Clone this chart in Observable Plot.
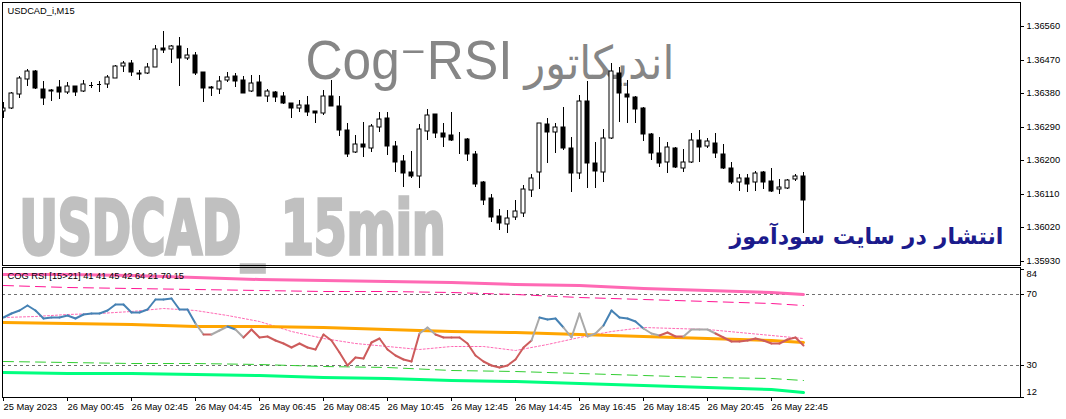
<!DOCTYPE html>
<html><head><meta charset="utf-8">
<script src="https://cdn.jsdelivr.net/npm/d3@7"></script>
<script src="https://cdn.jsdelivr.net/npm/@observablehq/plot@0.6"></script>
<style>
html,body{margin:0;padding:0;background:#fff;}
#chart{position:relative;width:1066px;height:419px;overflow:hidden;background:#fff;}
#chart svg{display:block;}
</style></head><body><div id="chart"></div>
<script>
// ---------- data ----------
const symbolLabel = "USDCAD_i,M15";
const indicatorLabel = "COG RSI [15>21] 41 41 45 42 64 21 70 15";
const watermarkLatin = "Cog\u207BRSI";
const watermarkPersian = "اندیکاتور";
const watermarkBig = "USDCAD_ 15min";
const publisherText = "انتشار در سایت سودآموز";

const timeTickBars = [0, 8, 16, 24, 32, 40, 48, 56, 64, 72, 80, 88, 96];
const timeLabels = ["25 May 2023", "26 May 00:45", "26 May 02:45", "26 May 04:45", "26 May 06:45",
  "26 May 08:45", "26 May 10:45", "26 May 12:45", "26 May 14:45", "26 May 16:45",
  "26 May 18:45", "26 May 20:45", "26 May 22:45"];
const priceTicks = [1.35930, 1.36020, 1.36110, 1.36200, 1.36290, 1.36380, 1.36470, 1.36560];

const open = [1.36332,1.36339,1.36378,1.36417,1.36440,1.36391,1.36388,1.36397,1.36384,1.36399,
1.36386,1.36402,1.36404,1.36404,1.36422,1.36453,1.36460,1.36433,1.36435,1.36450,
1.36501,1.36499,1.36506,1.36474,1.36483,1.36436,1.36397,1.36390,1.36415,1.36426,
1.36415,1.36386,1.36409,1.36372,1.36382,1.36372,1.36353,1.36339,1.36348,1.36332,
1.36326,1.36372,1.36345,1.36280,1.36221,1.36243,1.36233,1.36290,1.36312,1.36238,
1.36197,1.36168,1.36158,1.36279,1.36324,1.36274,1.36267,1.36258,1.36257,1.36216,
1.36142,1.36097,1.36049,1.36027,1.36046,1.36059,1.36119,1.36167,1.36296,1.36275,
1.36288,1.36232,1.36164,1.36359,1.36193,1.36169,1.36260,1.36435,1.36378,1.36369,
1.36341,1.36270,1.36218,1.36194,1.36232,1.36180,1.36194,1.36254,1.36238,1.36245,
1.36216,1.36180,1.36140,1.36151,1.36140,1.36167,1.36144,1.36121,1.36126,1.36148,
1.36157];
const high = [1.36355,1.36382,1.36425,1.36445,1.36442,1.36413,1.36391,1.36415,1.36411,1.36400,
1.36415,1.36409,1.36413,1.36429,1.36456,1.36467,1.36469,1.36441,1.36460,1.36510,
1.36546,1.36510,1.36530,1.36502,1.36490,1.36438,1.36399,1.36425,1.36438,1.36433,
1.36425,1.36429,1.36429,1.36391,1.36386,1.36384,1.36354,1.36362,1.36372,1.36333,
1.36389,1.36415,1.36371,1.36299,1.36267,1.36302,1.36296,1.36328,1.36328,1.36251,
1.36214,1.36224,1.36296,1.36337,1.36325,1.36299,1.36328,1.36275,1.36260,1.36225,
1.36145,1.36110,1.36068,1.36066,1.36093,1.36133,1.36162,1.36301,1.36312,1.36299,
1.36344,1.36263,1.36375,1.36413,1.36249,1.36284,1.36460,1.36451,1.36415,1.36371,
1.36344,1.36272,1.36261,1.36248,1.36236,1.36230,1.36274,1.36281,1.36260,1.36274,
1.36243,1.36196,1.36162,1.36162,1.36171,1.36171,1.36178,1.36149,1.36149,1.36162,
1.36169];
const low = [1.36312,1.36337,1.36368,1.36398,1.36390,1.36348,1.36359,1.36363,1.36378,1.36371,
1.36384,1.36395,1.36384,1.36393,1.36420,1.36436,1.36425,1.36414,1.36432,1.36449,
1.36489,1.36460,1.36398,1.36468,1.36429,1.36357,1.36371,1.36377,1.36409,1.36396,
1.36380,1.36382,1.36371,1.36355,1.36357,1.36351,1.36314,1.36328,1.36319,1.36301,
1.36321,1.36345,1.36266,1.36207,1.36218,1.36207,1.36223,1.36276,1.36215,1.36167,
1.36128,1.36151,1.36124,1.36254,1.36260,1.36236,1.36252,1.36216,1.36197,1.36128,
1.36079,1.36034,1.36012,1.36003,1.36040,1.36048,1.36101,1.36121,1.36191,1.36218,
1.36227,1.36115,1.36149,1.36126,1.36126,1.36140,1.36257,1.36303,1.36301,1.36301,
1.36252,1.36200,1.36182,1.36164,1.36180,1.36169,1.36191,1.36194,1.36233,1.36206,
1.36176,1.36137,1.36118,1.36115,1.36118,1.36122,1.36115,1.36110,1.36122,1.36145,
1.36004];
const close = [1.36339,1.36380,1.36420,1.36440,1.36395,1.36366,1.36385,1.36384,1.36399,1.36384,
1.36404,1.36402,1.36404,1.36423,1.36453,1.36460,1.36436,1.36432,1.36450,1.36499,
1.36497,1.36506,1.36474,1.36483,1.36433,1.36393,1.36393,1.36413,1.36424,1.36413,
1.36381,1.36406,1.36373,1.36386,1.36369,1.36354,1.36339,1.36348,1.36330,1.36326,
1.36372,1.36346,1.36281,1.36217,1.36243,1.36234,1.36292,1.36310,1.36239,1.36196,
1.36166,1.36158,1.36283,1.36321,1.36274,1.36263,1.36254,1.36256,1.36217,1.36136,
1.36094,1.36048,1.36030,1.36045,1.36063,1.36121,1.36151,1.36299,1.36275,1.36288,
1.36232,1.36164,1.36359,1.36191,1.36171,1.36260,1.36440,1.36380,1.36369,1.36337,
1.36269,1.36218,1.36191,1.36234,1.36182,1.36194,1.36254,1.36236,1.36251,1.36218,
1.36178,1.36140,1.36151,1.36137,1.36164,1.36142,1.36118,1.36127,1.36146,1.36158,
1.36094];

const rsi = [57.4,59.3,61.2,64.0,61.2,56.5,57.0,57.4,58.3,56.8,
58.9,59.3,59.3,61.2,64.4,64.4,60.2,60.2,61.5,67.2,
67.2,67.7,61.5,61.7,53.7,47.6,47.6,49.9,52.3,50.4,
45.8,50.3,45.8,46.7,44.3,42.4,40.1,42.4,40.1,39.2,
47.6,44.3,37.7,30.4,34.8,34.3,43.3,45.5,39.0,35.8,
33.5,32.6,48.4,51.7,47.5,46.1,45.8,45.8,42.4,35.8,
32.6,30.2,29.2,30.2,33.4,40.1,44.3,57.4,55.9,56.5,
51.7,45.8,59.3,46.5,48.4,52.7,61.2,57.0,56.5,55.1,
51.2,48.4,47.1,48.9,46.5,46.5,50.4,50.4,50.4,48.4,
45.8,43.7,43.7,44.3,45.2,44.3,42.7,42.7,44.6,46.1,
41.4];
// state of each RSI segment (bar i -> i+1): u = up colour, d = down colour, n = neutral
const rsiState = ["u","u","u","u","u","u","u","u","u","u",
"u","u","u","u","u","u","u","u","u","u",
"u","u","u","u","n","d","n","n","u","n",
"d","d","d","d","d","d","d","d","d","d",
"d","d","d","d","d","d","d","d","d","d",
"d","d","n","n","d","d","d","d","d","d",
"d","d","d","d","d","d","n","u","u","u",
"n","n","n","n","n","u","u","u","u","u",
"n","n","d","d","d","n","n","n","n","d",
"d","d","d","d","d","d","d","d","d","d"];

const bandBars   = [0, 8, 16, 24, 32, 40, 48, 56, 64, 72, 80, 88, 96, 100];
const upperOuter = [81.4,81.2,80.6,79.7,78.8,78.1,77.5,76.8,75.8,75.2,73.8,72.7,71.1,70.3];
const upperInner = [75.2,74.3,73.4,72.8,72.3,71.9,71.7,71.1,69.9,68.6,67.6,66.2,64.9,64.0];
const centerLine = [54.2,53.7,53.1,52.4,52.0,51.3,50.5,49.6,48.8,47.6,46.5,45.1,44.1,43.1];
const lowerInner = [32.4,32.0,31.5,31.1,30.6,29.6,29.0,27.6,26.8,25.7,24.5,23.4,22.6,21.5];
const lowerOuter = [26.4,25.8,25.5,24.9,24.5,23.6,23.0,21.7,20.9,20.0,18.9,17.5,16.4,15.1];

const signalBars = [0,4,8,12,16,20,24,28,32,36,40,44,48,52,56,60,64,68,72,76,80,84,88,92,96,100];
const signalLine = [57.4,57.9,58.9,59.3,60.6,62.0,61.2,58.3,54.7,49.6,45.1,42.8,40.9,39.2,40.7,40.6,38.9,42.0,46.1,49.3,51.7,51.0,50.7,48.9,47.1,45.2];

const rsiLevels = [30, 70];
const rsiEdgeTop = [84];
const rsiEdgeBottom = [12];

// ---------- styles ----------
const C = {
  up: "#4682B4", down: "#CD5C5C", neutral: "#A9A9A9",
  upperOuter: "#FF69B4", upperInner: "#FF1493", center: "#FFA500",
  lowerInner: "#32CD32", lowerOuter: "#00FF7F", signal: "#FF69B4", level: "#707070"
};
const stateColor = {u: C.up, d: C.down, n: C.neutral};
const FONT = "'Liberation Sans', Arial, 'DejaVu Sans', sans-serif";
const xDomain = [-0.125, 127.125];

const bars = open.map((o, i) => ({i, o, h: high[i], l: low[i], c: close[i]}));
const band = arr => bandBars.map((k, j) => ({k, v: arr[j]}));
const segs = rsiState.map((s, i) => ({i, s}));

// ---------- main price pane ----------
const p1 = Plot.plot({
  width: 1066, height: 266,
  marginLeft: 2, marginRight: 46, marginTop: 2, marginBottom: 1,
  style: {fontFamily: FONT, fontSize: "9.3px", background: "#fff", color: "#000", overflow: "visible"},
  x: {domain: xDomain, axis: null, round: true},
  y: {domain: [1.35918, 1.36625], round: true, label: null},
  marks: [
    Plot.text([watermarkBig], {text: d => d, frameAnchor: "top-left", dx: 17, dy: 251, lineAnchor: "bottom", textAnchor: "start",
      fontFamily: "'Liberation Sans Narrow', 'DejaVu Sans Condensed', sans-serif", fontWeight: "bold", fontSize: 74,
      fill: "#c0c0c0", stroke: "#c0c0c0", strokeWidth: 3.5, strokeLinejoin: "miter"}),
    Plot.text([watermarkLatin], {text: d => d, frameAnchor: "top-left", dx: 303, dy: 76, lineAnchor: "bottom", textAnchor: "start",
      fontFamily: "'Liberation Sans', 'DejaVu Sans', sans-serif", fontSize: 55, fill: "#868686"}),
    Plot.text([watermarkPersian], {text: d => d, frameAnchor: "top-left", dx: 672, dy: 76, lineAnchor: "bottom", textAnchor: "end",
      fontFamily: "'DejaVu Sans', sans-serif", fontSize: 46, fill: "#868686"}),
    Plot.text([publisherText], {text: d => d, frameAnchor: "top-left", dx: 1001, dy: 241, lineAnchor: "bottom", textAnchor: "end",
      fontFamily: "'DejaVu Sans', sans-serif", fontWeight: "bold", fontSize: 22.5, fill: "#1b1b8c"}),
    Plot.ruleX(bars, {x: "i", y1: "l", y2: "h", stroke: "#000", strokeWidth: 1, clip: true}),
    Plot.rect(bars, {x1: d => d.i - 0.25, x2: d => d.i + 0.25, y1: "o", y2: "c",
      fill: d => d.c > d.o ? "#fff" : "#000", stroke: "#000", strokeWidth: 1, clip: true}),
    Plot.ruleY(bars.filter(d => d.o === d.c), {y: "c", x1: d => d.i - 0.25, x2: d => d.i + 0.25, stroke: "#000", clip: true}),
    Plot.text([symbolLabel], {text: d => d, frameAnchor: "top-left", dx: 5, dy: 9, lineAnchor: "middle", textAnchor: "start", fontSize: 9.3, fill: "#000"}),
    Plot.axisY(priceTicks, {anchor: "right", tickSize: 3, tickPadding: 3, label: null, tickFormat: d => d.toFixed(5)}),
    Plot.frame({stroke: "#000"})
  ]
});

// ---------- indicator pane + time axis ----------
const p2 = Plot.plot({
  width: 1066, height: 153,
  marginLeft: 2, marginRight: 46, marginTop: 1, marginBottom: 22,
  style: {fontFamily: FONT, fontSize: "9.3px", background: "#fff", color: "#000", overflow: "visible"},
  x: {domain: xDomain, round: true, label: null},
  y: {domain: [12.14, 85.38], round: true, label: null},
  marks: [
    Plot.ruleY(rsiLevels, {stroke: C.level, strokeDasharray: "3,3", strokeWidth: 1}),
    Plot.line(band(upperOuter), {x: "k", y: "v", stroke: C.upperOuter, strokeWidth: 3}),
    Plot.line(band(upperInner), {x: "k", y: "v", stroke: C.upperInner, strokeWidth: 1, strokeDasharray: "10,6"}),
    Plot.line(band(lowerInner), {x: "k", y: "v", stroke: C.lowerInner, strokeWidth: 1, strokeDasharray: "10,6"}),
    Plot.line(band(lowerOuter), {x: "k", y: "v", stroke: C.lowerOuter, strokeWidth: 3}),
    Plot.line(signalBars.map((k, j) => ({k, v: signalLine[j]})), {x: "k", y: "v", stroke: C.signal, strokeWidth: 1, strokeDasharray: "2,2"}),
    Plot.line(band(centerLine), {x: "k", y: "v", stroke: C.center, strokeWidth: 3}),
    Plot.link(segs, {x1: d => d.i, y1: d => rsi[d.i], x2: d => d.i + 1, y2: d => rsi[d.i + 1],
      stroke: d => stateColor[d.s], strokeWidth: 2, strokeLinecap: "round"}),
    Plot.text([indicatorLabel], {text: d => d, frameAnchor: "top-left", dx: 5, dy: 9, lineAnchor: "middle", textAnchor: "start", fontSize: 9.3, fill: "#000"}),
    Plot.axisY([12, 30, 70, 84], {anchor: "right", tickSize: 3, label: null, tickFormat: () => ""}),
    Plot.text(rsiLevels, {y: d => d, text: d => String(d), frameAnchor: "right", dx: 6, textAnchor: "start", fill: "#000"}),
    Plot.text(rsiEdgeTop, {y: d => d, text: d => String(d), frameAnchor: "right", dx: 6, dy: 5, textAnchor: "start", fill: "#000"}),
    Plot.text(rsiEdgeBottom, {y: d => d, text: d => String(d), frameAnchor: "right", dx: 6, dy: -5, textAnchor: "start", fill: "#000"}),
    Plot.axisX(timeTickBars, {anchor: "bottom", tickSize: 4, tickPadding: 2, textAnchor: "start", dx: 0, label: null,
      tickFormat: d => timeLabels[timeTickBars.indexOf(d)]}),
    Plot.frame({stroke: "#000"})
  ]
});

const root = document.getElementById("chart");
root.appendChild(p1);
root.appendChild(p2);

// fit the watermark texts to their widths in the reference
function fitText(svg, content, len) {
  d3.select(svg).selectAll("text").filter(function () { return this.textContent === content; })
    .attr("textLength", len).attr("lengthAdjust", "spacingAndGlyphs");
}
fitText(p1, watermarkBig, 426);
fitText(p1, watermarkLatin, 207);
fitText(p1, watermarkPersian, 150);
fitText(p1, publisherText, 274);
</script>
</body></html>
